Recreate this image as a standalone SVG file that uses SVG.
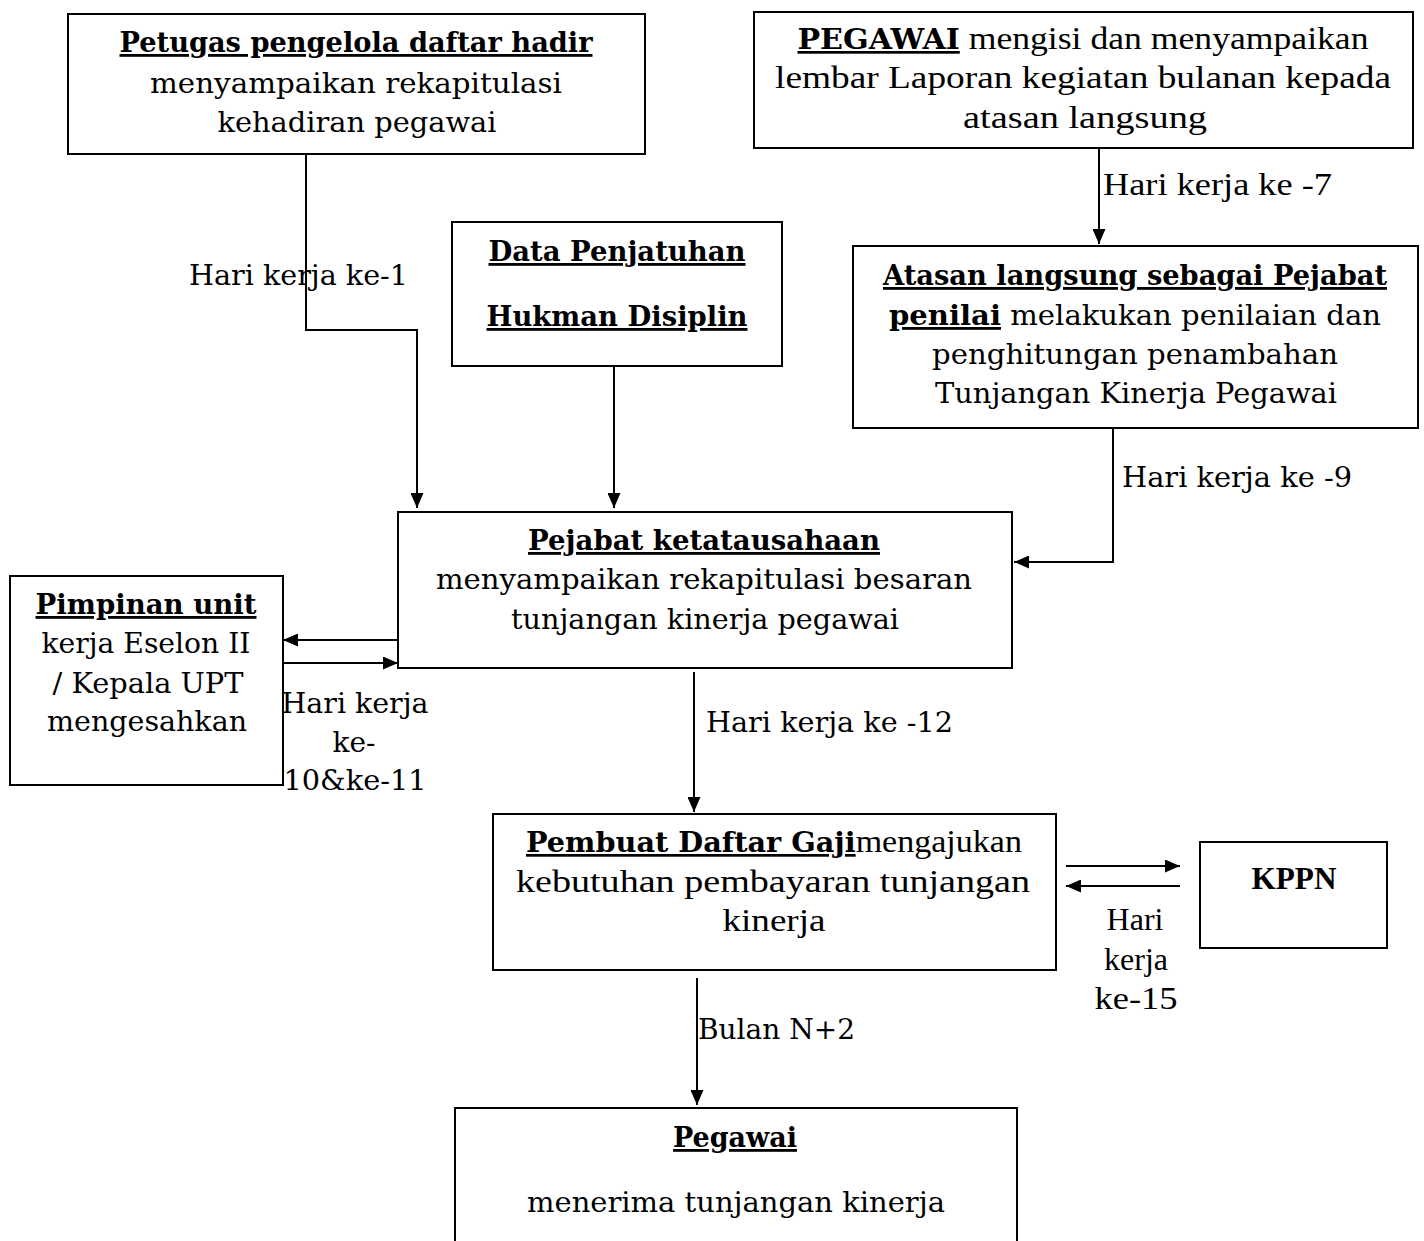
<svg xmlns="http://www.w3.org/2000/svg" width="1424" height="1241" viewBox="0 0 1424 1241">
<style>
.box{fill:#fff;stroke:#000;stroke-width:2}
.t{font-family:"DejaVu Serif","Liberation Serif",serif;font-size:28px;fill:#000;text-anchor:middle}
.n{font-family:"Liberation Serif","DejaVu Serif",serif;font-size:32px;fill:#000;text-anchor:middle}
.b{font-weight:bold;text-decoration:underline}
.bd{font-family:"DejaVu Serif",serif;font-size:27px}
.bn{font-weight:bold}
.lbl{font-family:"DejaVu Serif","Liberation Serif",serif;font-size:28px;fill:#000}
.lbln{font-family:"Liberation Serif","DejaVu Serif",serif;font-size:32px;fill:#000}
.c{fill:none;stroke:#000;stroke-width:2}
</style>
<defs>
<marker id="ah" markerUnits="userSpaceOnUse" markerWidth="15" markerHeight="13" refX="15" refY="6.5" orient="auto">
<path d="M0,0 L15,6.5 L0,13 z" fill="#000"/>
</marker>
</defs>
<rect width="1424" height="1241" fill="#fff"/>
<g id="connectors">
<path class="c" d="M306,154 V330 H417 V508" marker-end="url(#ah)"/>
<path class="c" d="M614,366 V508" marker-end="url(#ah)"/>
<path class="c" d="M1099,148 V244" marker-end="url(#ah)"/>
<path class="c" d="M1113,428 V562 H1014" marker-end="url(#ah)"/>
<path class="c" d="M398,640 H283" marker-end="url(#ah)"/>
<path class="c" d="M283,663 H398" marker-end="url(#ah)"/>
<path class="c" d="M694,672 V812" marker-end="url(#ah)"/>
<path class="c" d="M1066,866 H1180" marker-end="url(#ah)"/>
<path class="c" d="M1180,886 H1066" marker-end="url(#ah)"/>
<path class="c" d="M697,978 V1105" marker-end="url(#ah)"/>
<text class="lbl" x="189" y="285" textLength="219" lengthAdjust="spacingAndGlyphs">Hari kerja ke-1</text>
<text class="lbln" x="1103" y="195" textLength="229" lengthAdjust="spacingAndGlyphs">Hari kerja ke -7</text>
<text class="lbl" x="1122" y="487" textLength="230" lengthAdjust="spacingAndGlyphs">Hari kerja ke -9</text>
<text class="t" x="355" y="713" textLength="147" lengthAdjust="spacingAndGlyphs">Hari kerja</text>
<text class="t" x="354" y="752">ke-</text>
<text class="t" x="355" y="790" textLength="143" lengthAdjust="spacingAndGlyphs">10&amp;ke-11</text>
<text class="lbl" x="706" y="732" textLength="247" lengthAdjust="spacingAndGlyphs">Hari kerja ke -12</text>
<text class="n" x="1135" y="930">Hari</text>
<text class="n" x="1136" y="970">kerja</text>
<text class="n" x="1136" y="1009" textLength="83" lengthAdjust="spacingAndGlyphs">ke-15</text>
<text class="lbl" x="698" y="1039" textLength="157" lengthAdjust="spacingAndGlyphs">Bulan N+2</text>
</g>
<g id="petugas">
<rect class="box" x="68" y="14" width="577" height="140"/>
<text class="t" x="356" y="52" textLength="473" lengthAdjust="spacingAndGlyphs"><tspan class="b">Petugas pengelola daftar hadir</tspan></text>
<text class="t" x="356" y="93" textLength="412" lengthAdjust="spacingAndGlyphs">menyampaikan rekapitulasi</text>
<text class="t" x="357" y="132" textLength="279" lengthAdjust="spacingAndGlyphs">kehadiran pegawai</text>
</g>
<g id="pegawai-laporan">
<rect class="box" x="754" y="12" width="659" height="136"/>
<text class="n" x="1083" y="49" textLength="571" lengthAdjust="spacingAndGlyphs"><tspan class="b bd">PEGAWAI</tspan> mengisi dan menyampaikan</text>
<text class="n" x="1083" y="88" textLength="616" lengthAdjust="spacingAndGlyphs">lembar Laporan kegiatan bulanan kepada</text>
<text class="n" x="1085" y="128" textLength="244" lengthAdjust="spacingAndGlyphs">atasan langsung</text>
</g>
<g id="data-penjatuhan">
<rect class="box" x="452" y="222" width="330" height="144"/>
<text class="t" x="617" y="261" textLength="257" lengthAdjust="spacingAndGlyphs"><tspan class="b">Data Penjatuhan</tspan></text>
<text class="t" x="617" y="326" textLength="261" lengthAdjust="spacingAndGlyphs"><tspan class="b">Hukman Disiplin</tspan></text>
</g>
<g id="atasan">
<rect class="box" x="853" y="246" width="565" height="182"/>
<text class="t" x="1135" y="285" textLength="504" lengthAdjust="spacingAndGlyphs"><tspan class="b">Atasan langsung sebagai Pejabat</tspan></text>
<text class="t" x="1135" y="325" textLength="492" lengthAdjust="spacingAndGlyphs"><tspan class="b">penilai</tspan> melakukan penilaian dan</text>
<text class="t" x="1135" y="364" textLength="406" lengthAdjust="spacingAndGlyphs">penghitungan penambahan</text>
<text class="t" x="1136" y="403" textLength="402" lengthAdjust="spacingAndGlyphs">Tunjangan Kinerja Pegawai</text>
</g>
<g id="pejabat">
<rect class="box" x="398" y="512" width="614" height="156"/>
<text class="t" x="704" y="550" textLength="352" lengthAdjust="spacingAndGlyphs"><tspan class="b">Pejabat ketatausahaan</tspan></text>
<text class="t" x="704" y="589" textLength="536" lengthAdjust="spacingAndGlyphs">menyampaikan rekapitulasi besaran</text>
<text class="t" x="705" y="629" textLength="388" lengthAdjust="spacingAndGlyphs">tunjangan kinerja pegawai</text>
</g>
<g id="pimpinan">
<rect class="box" x="10" y="576" width="273" height="209"/>
<text class="t" x="146" y="614" textLength="221" lengthAdjust="spacingAndGlyphs"><tspan class="b">Pimpinan unit</tspan></text>
<text class="t" x="146" y="653" textLength="209" lengthAdjust="spacingAndGlyphs">kerja Eselon II</text>
<text class="t" x="148" y="693" textLength="191" lengthAdjust="spacingAndGlyphs">/ Kepala UPT</text>
<text class="t" x="147" y="731" textLength="200" lengthAdjust="spacingAndGlyphs">mengesahkan</text>
</g>
<g id="pembuat">
<rect class="box" x="493" y="814" width="563" height="156"/>
<text class="n" x="774" y="852" textLength="496" lengthAdjust="spacingAndGlyphs"><tspan class="b bd">Pembuat Daftar Gaji</tspan>mengajukan</text>
<text class="n" x="773" y="892" textLength="514" lengthAdjust="spacingAndGlyphs">kebutuhan pembayaran tunjangan</text>
<text class="n" x="774" y="931" textLength="103" lengthAdjust="spacingAndGlyphs">kinerja</text>
</g>
<g id="kppn">
<rect class="box" x="1200" y="842" width="187" height="106"/>
<text class="n bn" x="1294" y="889" textLength="85" lengthAdjust="spacingAndGlyphs">KPPN</text>
</g>
<g id="pegawai">
<rect class="box" x="455" y="1108" width="562" height="150"/>
<text class="t" x="735" y="1147" textLength="124" lengthAdjust="spacingAndGlyphs"><tspan class="b">Pegawai</tspan></text>
<text class="t" x="736" y="1212" textLength="418" lengthAdjust="spacingAndGlyphs">menerima tunjangan kinerja</text>
</g>
</svg>
